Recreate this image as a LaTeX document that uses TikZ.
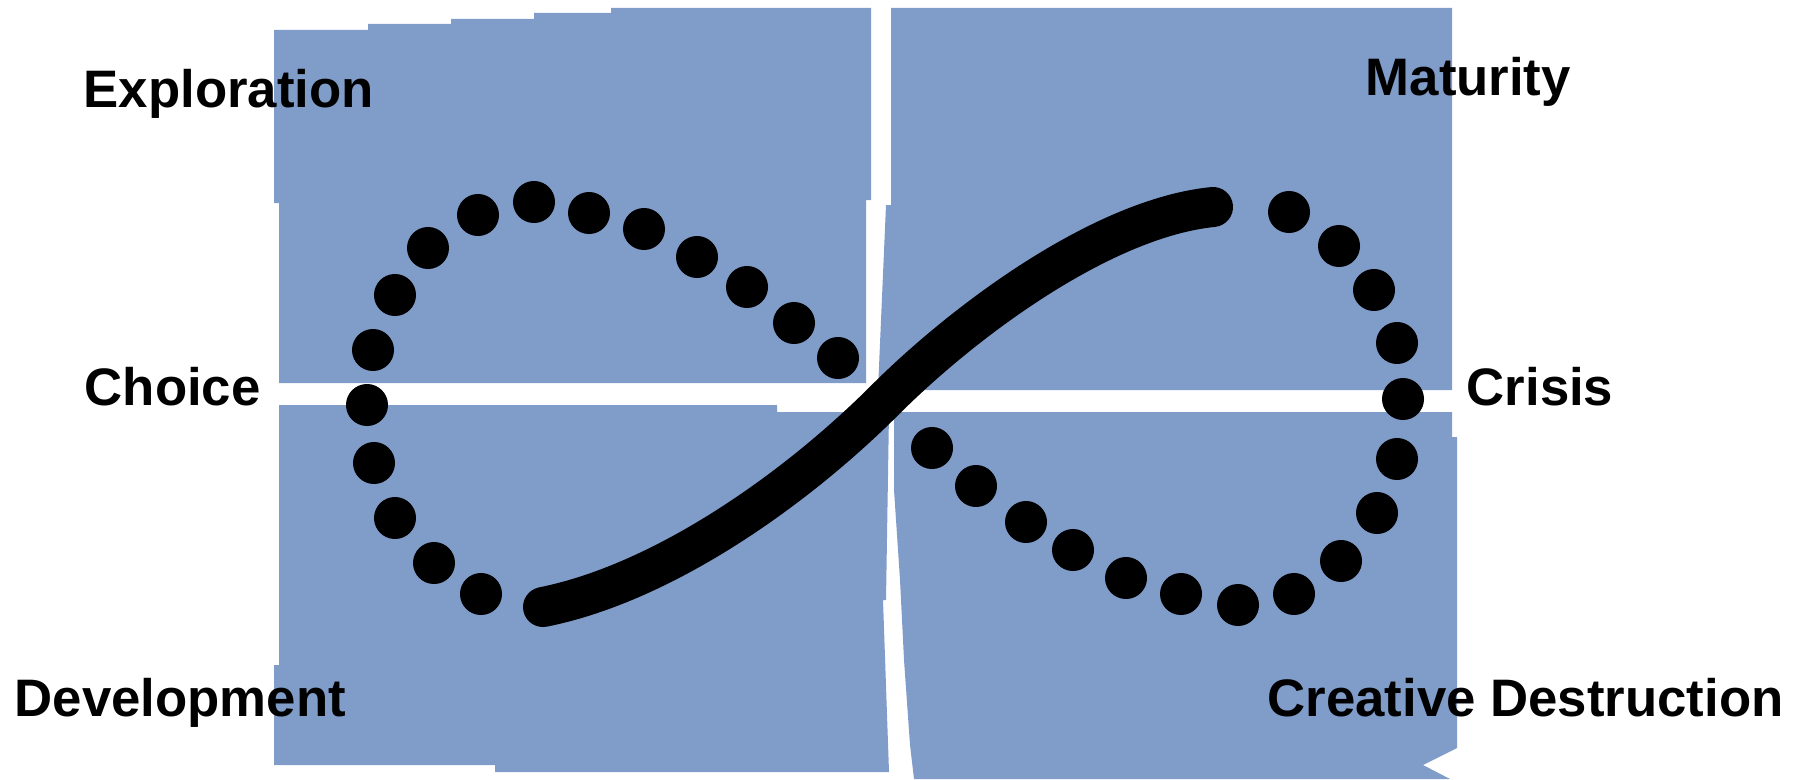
\documentclass[tikz,border=0pt]{standalone}
\usepackage{fontspec}
\setmainfont{Liberation Sans}
\definecolor{Panel}{HTML}{809CC9}
\definecolor{Ink}{HTML}{000000}

\begin{document}
\begin{tikzpicture}[x=0.01cm,y=-0.01cm,every node/.style={text=Ink,font=\fontsize{15}{18}\selectfont\bfseries,inner sep=0pt,anchor=base west}]
\useasboundingbox (0,0) rectangle (1798,779);
\fill[white] (0,0) rectangle (1798,779);
\fill[Panel] (274,30)--(368,30)--(368,24)--(451,24)--(451,19)--(534,19)--(534,13)--(611,13)--(611,8)--(871,8)--(871,200)--(866,200)--(866,383)--(279,383)--(279,203)--(274,203)--cycle;
\fill[Panel] (279,405)--(777,405)--(777,412)--(889,412)--(886,600)--(883,600)--(889,772)--(495,772)--(495,765)--(274,765)--(274,665)--(279,665)--cycle;
\fill[Panel] (891,8)--(1452,8)--(1452,390)--(878,390)--(881,320)--(886,205)--(891,205)--cycle;
\fill[Panel] (894,412)--(1452,412)--(1452,437)--(1457,437)--(1457,748)--(1423,765)--(1450,779)--(914,779)--(910,745)--(904,660)--(900,580)--(894,490)--cycle;
\foreach \x/\y in {838/358,794/323,747/287,697/257,644/229,589/213,534/202,478/215,428/248,395/295,373/350,367/405,374/463,395/518,434/563,481/594}
  \fill[Ink] (\x,\y) circle (0.21cm);
\foreach \x/\y in {1289/212,1339/246,1374/290,1397/343,1403/399,1397/459,1377/513,1341/561,1294/594,1238/605,1181/594,1126/578,1073/550,1026/522,976/486,932/448}
  \fill[Ink] (\x,\y) circle (0.21cm);
\coordinate (start) at (543,607);
\coordinate (cross) at (885,400);
\coordinate (stop) at (1213,207);
\draw[Ink,line width=0.4cm,line cap=round] (start) .. controls (663,583) and (795,490) .. (cross) .. controls (965,320) and (1103,218) .. (stop);
\node (explore) at (83,107) {Exploration};
\node (mature) at (1365,96) {Maturity};
\node (choice) at (84,405) {Choice};
\node (crisis) at (1466,405) {Crisis};
\node (develop) at (14,716) {Development};
\node (destroy) at (1267,716) {Creative Destruction};
\end{tikzpicture}
\end{document}
